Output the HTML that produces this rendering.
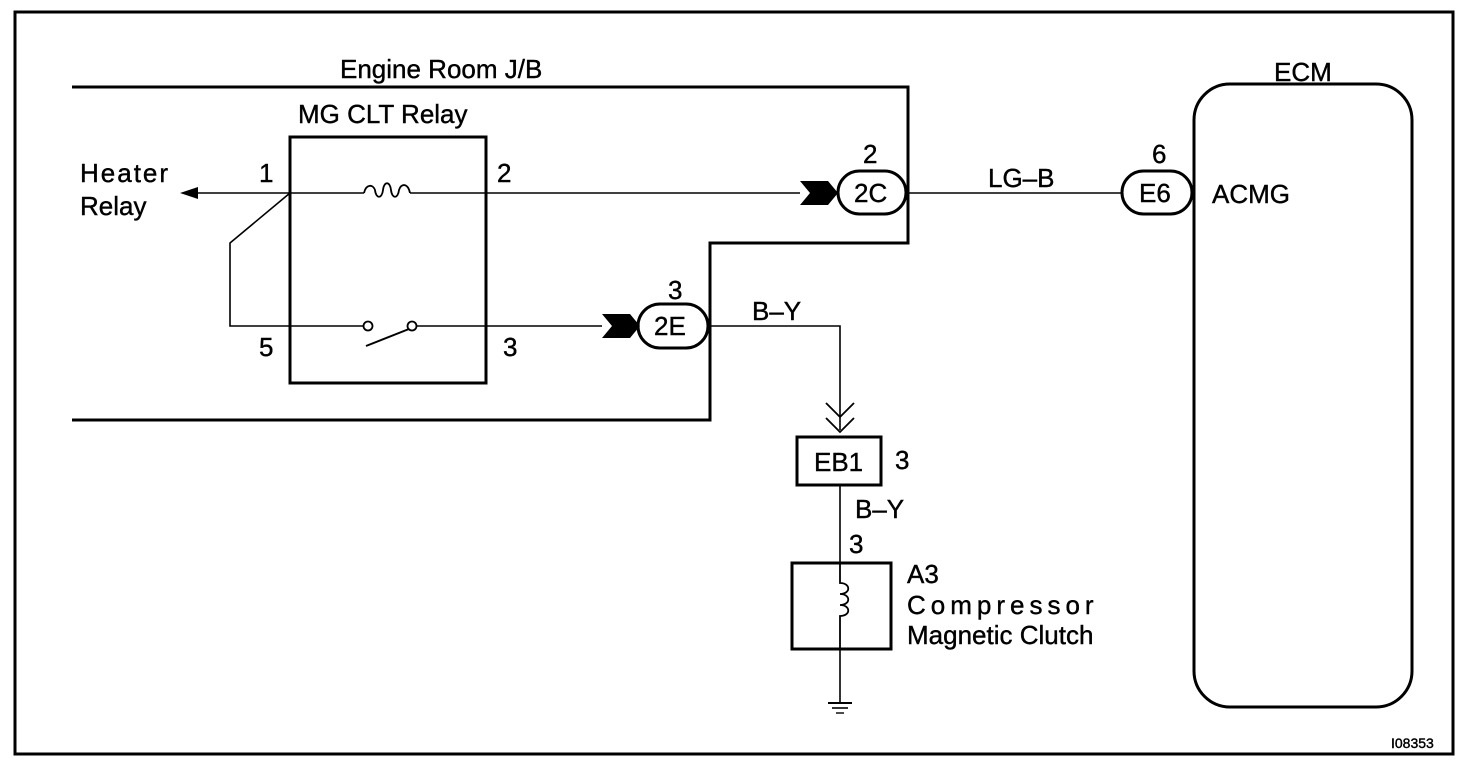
<!DOCTYPE html>
<html><head><meta charset="utf-8"><style>
html,body{margin:0;padding:0;background:#fff;}
svg{display:block;}
text{font-family:"Liberation Sans",Arial,sans-serif;fill:#000;stroke:#000;stroke-width:0.4;}
</style></head><body>
<svg width="1472" height="770" viewBox="0 0 1472 770" xmlns="http://www.w3.org/2000/svg">
<g fill="none" stroke="#000">
<rect x="15" y="12" width="1438" height="742" stroke-width="3"/>
<polyline points="72,87 908,87 908,243 710,243 710,420 72,420" stroke-width="3"/>
<rect x="290" y="137" width="196" height="246" stroke-width="3"/>
<line x1="190" y1="193" x2="364" y2="193" stroke-width="1.6"/>
<path d="M364,193 c2,-9 9,-9 11,-3 c1,9 7,9 8,0 c1,-9 7,-9 8,0 c1,9 7,9 8,0 c2,-7 9,-7 11,3" stroke-width="1.8"/>
<line x1="410" y1="193" x2="800" y2="193" stroke-width="1.6"/>
<line x1="906" y1="193" x2="1122" y2="193" stroke-width="1.6"/>
<polyline points="290,193 230,243 230,326 364,326" stroke-width="1.6"/>
<circle cx="368" cy="326" r="4.5" stroke-width="1.8"/>
<circle cx="412" cy="326" r="4.5" stroke-width="1.8"/>
<line x1="366" y1="346" x2="409" y2="329" stroke-width="2"/>
<line x1="416" y1="326" x2="602" y2="326" stroke-width="1.6"/>
<rect x="838" y="171" width="68" height="43" rx="21.5" stroke-width="3"/>
<rect x="1122" y="171" width="70" height="43" rx="21.5" stroke-width="3"/>
<rect x="638" y="304" width="70" height="44" rx="22" stroke-width="3"/>
<rect x="1194" y="84" width="218" height="623" rx="36" stroke-width="3"/>
<polyline points="708,326 840,326 840,430" stroke-width="1.6"/>
<polyline points="826,403 840,417 854,403" stroke-width="1.8"/>
<polyline points="826,418 840,432 854,418" stroke-width="1.8"/>
<rect x="797" y="437" width="84" height="48" stroke-width="3"/>
<line x1="840" y1="485" x2="840" y2="563" stroke-width="1.6"/>
<rect x="792" y="563" width="99" height="86" stroke-width="3"/>
<path d="M840,563 v20 c11,0 11,11 0,11 c11,0 11,11 0,11 c11,0 11,11 0,11 v33" stroke-width="1.8"/>
<line x1="840" y1="649" x2="840" y2="703" stroke-width="1.6"/>
<line x1="828" y1="703" x2="852" y2="703" stroke-width="2"/>
<line x1="832" y1="708" x2="848" y2="708" stroke-width="1.6"/>
<line x1="836" y1="713" x2="844" y2="713" stroke-width="1.4"/>
</g>
<polygon points="180,193 198,187 198,199" fill="#000"/>
<polygon points="800,181 828,181 838,193 828,205 800,205 810,193" fill="#000"/>
<polygon points="602,314 630,314 640,326 630,338 602,338 612,326" fill="#000"/>
<g font-size="26">
<text x="340" y="78">Engine Room J/B</text>
<text x="298" y="123">MG CLT Relay</text>
<text x="80" y="182" letter-spacing="2">Heater</text>
<text x="80" y="215">Relay</text>
<text x="259" y="182">1</text>
<text x="497" y="182">2</text>
<text x="259" y="356">5</text>
<text x="503" y="356">3</text>
<text x="863" y="163">2</text>
<text x="854" y="202">2C</text>
<text x="988" y="187">LG–B</text>
<text x="1152" y="163">6</text>
<text x="1139" y="202">E6</text>
<text x="1212" y="203">ACMG</text>
<text x="1274" y="81">ECM</text>
<text x="668" y="299">3</text>
<text x="654" y="335">2E</text>
<text x="752" y="320">B–Y</text>
<text x="814" y="471">EB1</text>
<text x="895" y="469">3</text>
<text x="855" y="518">B–Y</text>
<text x="849" y="553">3</text>
<text x="907" y="583">A3</text>
<text x="907" y="614" letter-spacing="5">Compressor</text>
<text x="907" y="644">Magnetic Clutch</text>
</g>
<text x="1391" y="748" font-size="14">I08353</text>
</svg>
</body></html>
